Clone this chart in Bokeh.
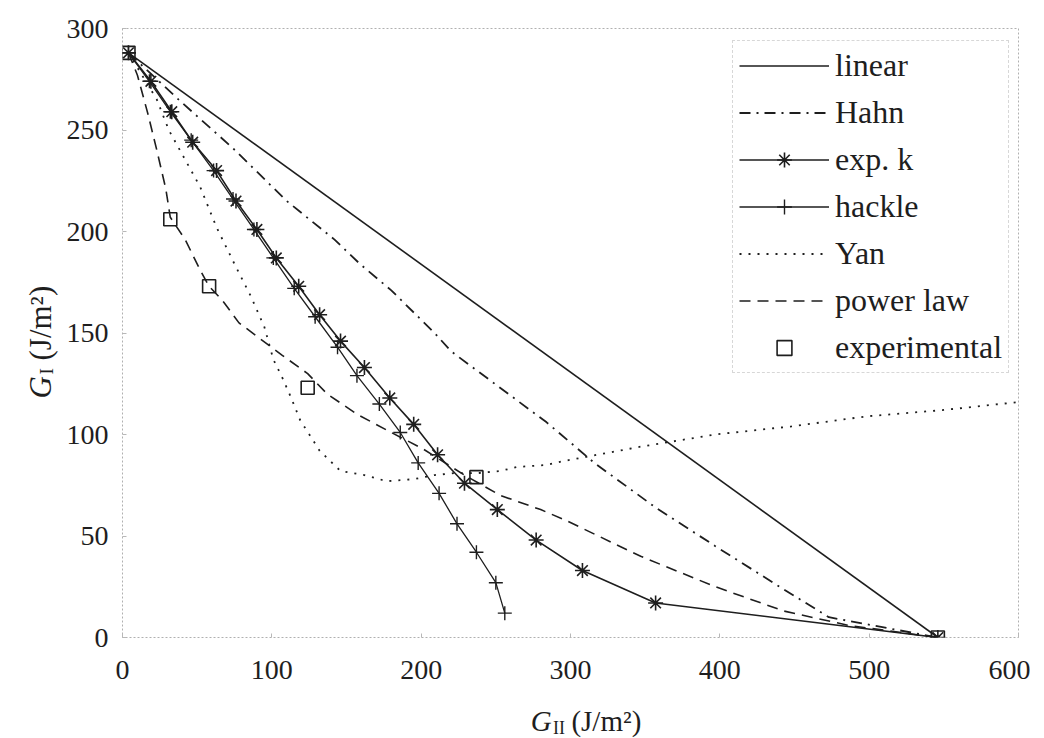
import math
from bokeh.plotting import figure
from bokeh.layouts import row, column
from bokeh.models import Range1d, Legend, LegendItem, FixedTicker
from bokeh.core.properties import value
from bokeh.embed import file_html
from bokeh.resources import INLINE

# ---- data (G_II, G_I in J/m^2) ----
linear_x = [4, 546]
linear_y = [288, 0]

hahn_x = [4, 39, 74, 110, 142, 159, 180, 209, 220, 284, 316, 357, 397, 440, 473, 546]
hahn_y = [288, 264, 241, 215, 196, 184, 171, 150, 141, 106, 86, 64, 45, 25, 10, 0]

expk_x = [4, 19, 33, 47, 63, 76, 90, 103, 118, 132, 146, 162, 179, 195, 211, 229, 251, 277, 308, 357, 546]
expk_y = [288, 274, 259, 244, 230, 215, 201, 187, 173, 159, 146, 133, 118, 105, 90, 76, 63, 48, 33, 17, 0]

hackle_x = [4, 18, 32, 46, 61, 74, 88, 101, 115, 129, 144, 157, 172, 186, 198, 212, 224, 237, 250, 256]
hackle_y = [288, 274, 259, 245, 230, 216, 201, 187, 172, 158, 143, 129, 115, 101, 86, 71, 56, 42, 27, 12]

yan_x = [4, 23, 31, 40, 52, 63, 75, 86, 95, 101, 107, 113, 119, 126, 132, 139, 146, 162, 177, 195,
         209, 222, 238, 253, 264, 284, 296, 347, 397, 448, 499, 549, 600]
yan_y = [288, 265, 250, 238, 222, 202, 184, 168, 153, 137, 128, 118, 107, 99, 92, 87, 82, 80, 77, 78,
         80, 81, 81, 82, 84, 85, 87, 94, 100, 104, 109, 112, 116]

power_x = [4, 10, 17, 23, 29, 32, 42, 52, 58, 67, 78, 107, 124, 137, 157, 180, 201, 229, 253, 280,
           296, 347, 397, 443, 486, 546]
power_y = [288, 277, 258, 240, 221, 207, 196, 181, 173, 166, 155, 139, 130, 120, 110, 101, 93, 80, 70, 63,
           58, 40, 25, 13, 6, 0]

exper_x = [4, 32, 58, 124, 237, 546]
exper_y = [288, 206, 173, 123, 79, 0]

x_ticks = [0, 100, 200, 300, 400, 500, 600]
y_ticks = [0, 50, 100, 150, 200, 250, 300]

FONT = "Liberation Serif"
INK = "#1e1e1e"

YT_W = 62      # width of the strip holding the vertical axis title
MAIN_W = 1030 - YT_W
MAIN_H = 692
XT_H = 46      # height of the strip holding the horizontal axis title

# ---- main plot ----
p = figure(width=MAIN_W, height=MAIN_H, output_backend="svg", toolbar_location=None,
           x_range=Range1d(0, 600), y_range=Range1d(0, 300),
           min_border_left=122 - YT_W, min_border_right=12, min_border_top=28,
           min_border_bottom=MAIN_H - 637)
p.background_fill_color = "white"
p.border_fill_color = "white"
p.outline_line_color = "#b0b0b0"
p.outline_line_dash = "2 2"
p.outline_line_width = 1
p.xgrid.visible = False
p.ygrid.visible = False

for ax, ticks in ((p.xaxis, x_ticks), (p.yaxis, y_ticks)):
    ax.ticker = FixedTicker(ticks=ticks)
    ax.axis_line_color = None
    ax.major_tick_line_color = "#b8b8b8"
    ax.major_tick_in = 4
    ax.major_tick_out = 0
    ax.minor_tick_line_color = None
    ax.major_label_text_font = FONT
    ax.major_label_text_font_size = "28px"
    ax.major_label_text_color = INK
p.xaxis.major_label_standoff = 23
p.yaxis.major_label_standoff = 14

r_lin = p.line(linear_x, linear_y, line_color=INK, line_width=1.6)
r_hahn = p.line(hahn_x, hahn_y, line_color=INK, line_width=1.8, line_dash="11 6 2 6")
r_expk = p.line(expk_x, expk_y, line_color=INK, line_width=1.6)
r_expk_m = p.scatter(expk_x, expk_y, marker="asterisk", size=15, line_color=INK, line_width=1.6)
r_hack = p.line(hackle_x, hackle_y, line_color=INK, line_width=1.3)
r_hack_m = p.scatter(hackle_x, hackle_y, marker="cross", size=14, line_color=INK, line_width=1.4)
r_yan = p.line(yan_x, yan_y, line_color=INK, line_width=1.8, line_dash="2 7")
r_pow = p.line(power_x, power_y, line_color=INK, line_width=1.6, line_dash="11 7")
r_exp = p.scatter(exper_x, exper_y, marker="square", size=13, fill_color=None,
                  line_color=INK, line_width=1.6)

legend = Legend(items=[
    LegendItem(label="linear", renderers=[r_lin]),
    LegendItem(label="Hahn", renderers=[r_hahn]),
    LegendItem(label="exp. k", renderers=[r_expk, r_expk_m]),
    LegendItem(label="hackle", renderers=[r_hack, r_hack_m]),
    LegendItem(label="Yan", renderers=[r_yan]),
    LegendItem(label="power law", renderers=[r_pow]),
    LegendItem(label="experimental", renderers=[r_exp]),
], location=(610, 264))
legend.label_text_font = FONT
legend.label_text_font_size = "32px"
legend.label_text_color = INK
legend.glyph_width = 90
legend.glyph_height = 37
legend.label_height = 37
legend.label_standoff = 6
legend.spacing = 10
legend.padding = 6
legend.margin = 0
legend.border_line_color = "#b0b0b0"
legend.border_line_dash = "2 2"
legend.background_fill_color = "white"
legend.background_fill_alpha = 1.0
p.add_layout(legend)


def blank(w, h):
    f = figure(width=w, height=h, output_backend="svg", toolbar_location=None,
               x_range=Range1d(0, w), y_range=Range1d(0, h),
               x_axis_type=None, y_axis_type=None,
               min_border_left=0, min_border_right=0, min_border_top=0, min_border_bottom=0)
    f.outline_line_color = None
    f.background_fill_color = "white"
    f.border_fill_color = "white"
    return f


def piece(f, x, y, text, size, style="normal", angle=0.0):
    f.text(x=[x], y=[y], text=[text], text_font=value(FONT), text_font_size=size,
           text_font_style=style, text_color=INK, text_align="left",
           text_baseline="alphabetic", angle=angle)


# x-axis title: G_II (J/m^2)  (strip spans page x YT_W..1030, page y MAIN_H..738)
xt = blank(MAIN_W, XT_H)
piece(xt, 503 - YT_W, 18, "G", "29px", "italic")
piece(xt, 527 - YT_W, 11, "II", "18px")
piece(xt, 547 - YT_W, 18, "(J/m\u00b2)", "29px")

# y-axis title: G_I (J/m^2), rotated (strip spans page x 0..YT_W)
YT_H = MAIN_H + XT_H
yt = blank(YT_W, YT_H)
ang = math.pi / 2
piece(yt, 40, YT_H - 398, "G", "31px", "italic", ang)
piece(yt, 46, YT_H - 374, "I", "19px", "normal", ang)
piece(yt, 40, YT_H - 360, "(J/m\u00b2)", "31px", "normal", ang)

layout = row(yt, column(p, xt))
open("out.html", "w").write(file_html(layout, INLINE))
